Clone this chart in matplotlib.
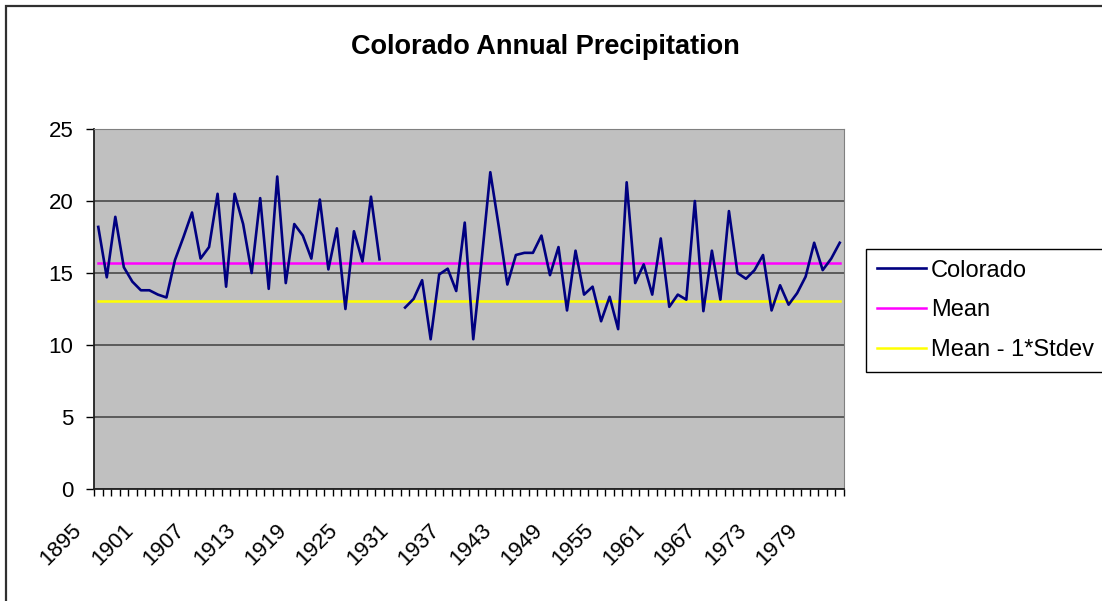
import numpy as np
import matplotlib.pyplot as plt
from matplotlib.patches import Rectangle
from matplotlib.transforms import ScaledTranslation

plt.rcParams['font.family'] = ['Liberation Sans', 'DejaVu Sans']

# categories: one per year
years = list(range(1895, 1983))

# annual precipitation (inches), gap for 1929-1930
colorado = [
    18.2, 14.7, 18.9, 15.4, 14.4, 13.8, 13.8, 13.5, 13.3, 15.9,   # 1895-1904
    17.5, 19.2, 16.0, 16.8, 20.5, 14.05, 20.5, 18.4, 15.0, 20.2,  # 1905-1914
    13.9, 21.7, 14.3, 18.4, 17.6, 16.0, 20.1, 15.25, 18.1, 12.5,  # 1915-1924
    17.9, 15.8, 20.3, 15.95, np.nan, np.nan, 12.6, 13.2, 14.5, 10.4,  # 1925-1934
    14.9, 15.3, 13.75, 18.5, 10.4, 16.0, 22.0, 18.2, 14.2, 16.25,  # 1935-1944
    16.4, 16.4, 17.6, 14.85, 16.8, 12.4, 16.55, 13.5, 14.05, 11.65,  # 1945-1954
    13.35, 11.1, 21.3, 14.3, 15.6, 13.5, 17.4, 12.65, 13.5, 13.15,  # 1955-1964
    20.0, 12.35, 16.55, 13.15, 19.3, 15.0, 14.6, 15.2, 16.25, 12.4,  # 1965-1974
    14.15, 12.8, 13.6, 14.75, 17.1, 15.2, 16.0, 17.1,  # 1975-1982
]

mean_value = 15.72
mean_minus_std = 13.08

y_ticks = [0, 5, 10, 15, 20, 25]
label_step = 6


def main():
    W, H = 1102, 601
    fig = plt.figure(figsize=(W / 100, H / 100), dpi=100)

    # outer chart border (runs off the right/bottom edge like the source)
    fig.patches.append(Rectangle((6 / W, -10 / H), 1110 / W, 605 / H,
                                 transform=fig.transFigure, fill=False,
                                 edgecolor='#303030', linewidth=1.6))

    ax = fig.add_axes([94 / W, 1 - 489 / H, 750 / W, 360 / H])
    ax.set_facecolor('#C0C0C0')

    x = np.arange(len(years))
    ax.plot(x, colorado, color='#000080', lw=1.9, label='Colorado', zorder=4)
    ax.plot(x, [mean_value] * len(years), color='#FF00FF', lw=1.8, label='Mean', zorder=3)
    ax.plot(x, [mean_minus_std] * len(years), color='#FFFF00', lw=1.8,
            label='Mean - 1*Stdev', zorder=3)

    ax.set_xlim(-0.5, len(years) - 0.5)
    ax.set_ylim(0, 25)

    ax.set_yticks(y_ticks)
    ax.yaxis.grid(True, color='#404040', lw=1.1)
    ax.set_axisbelow(True)
    ax.tick_params(axis='y', length=6, width=1, pad=9, labelsize=16)

    ax.set_xticks(x[::label_step])
    ax.set_xticklabels([str(y) for y in years[::label_step]], rotation=45,
                       ha='right', va='top', fontsize=16)
    ax.set_xticks(np.arange(len(years) + 1) - 0.5, minor=True)
    ax.tick_params(axis='x', which='major', length=0, pad=22)
    ax.tick_params(axis='x', which='minor', length=5, width=1)
    shift = ScaledTranslation(-0.12, 0, fig.dpi_scale_trans)
    for lbl in ax.get_xticklabels():
        lbl.set_transform(lbl.get_transform() + shift)

    for side in ('top', 'right'):
        ax.spines[side].set_color('#808080')
    for side in ('left', 'bottom'):
        ax.spines[side].set_color('#202020')
        ax.spines[side].set_linewidth(1.3)

    fig.text(545 / W, 1 - 47 / H, 'Colorado Annual Precipitation',
             ha='center', va='center', fontsize=19.5, fontweight='bold')

    leg = ax.legend(loc='upper left', bbox_to_anchor=(866 / W, 1 - 249 / H),
                    bbox_transform=fig.transFigure, borderaxespad=0,
                    fancybox=False, framealpha=1, edgecolor='black',
                    fontsize=17, handlelength=2.1, handletextpad=0.2,
                    labelspacing=0.75, borderpad=0.45)
    leg.get_frame().set_linewidth(1.0)

    fig.savefig('out.png', dpi=100)


if __name__ == "__main__":
    main()
